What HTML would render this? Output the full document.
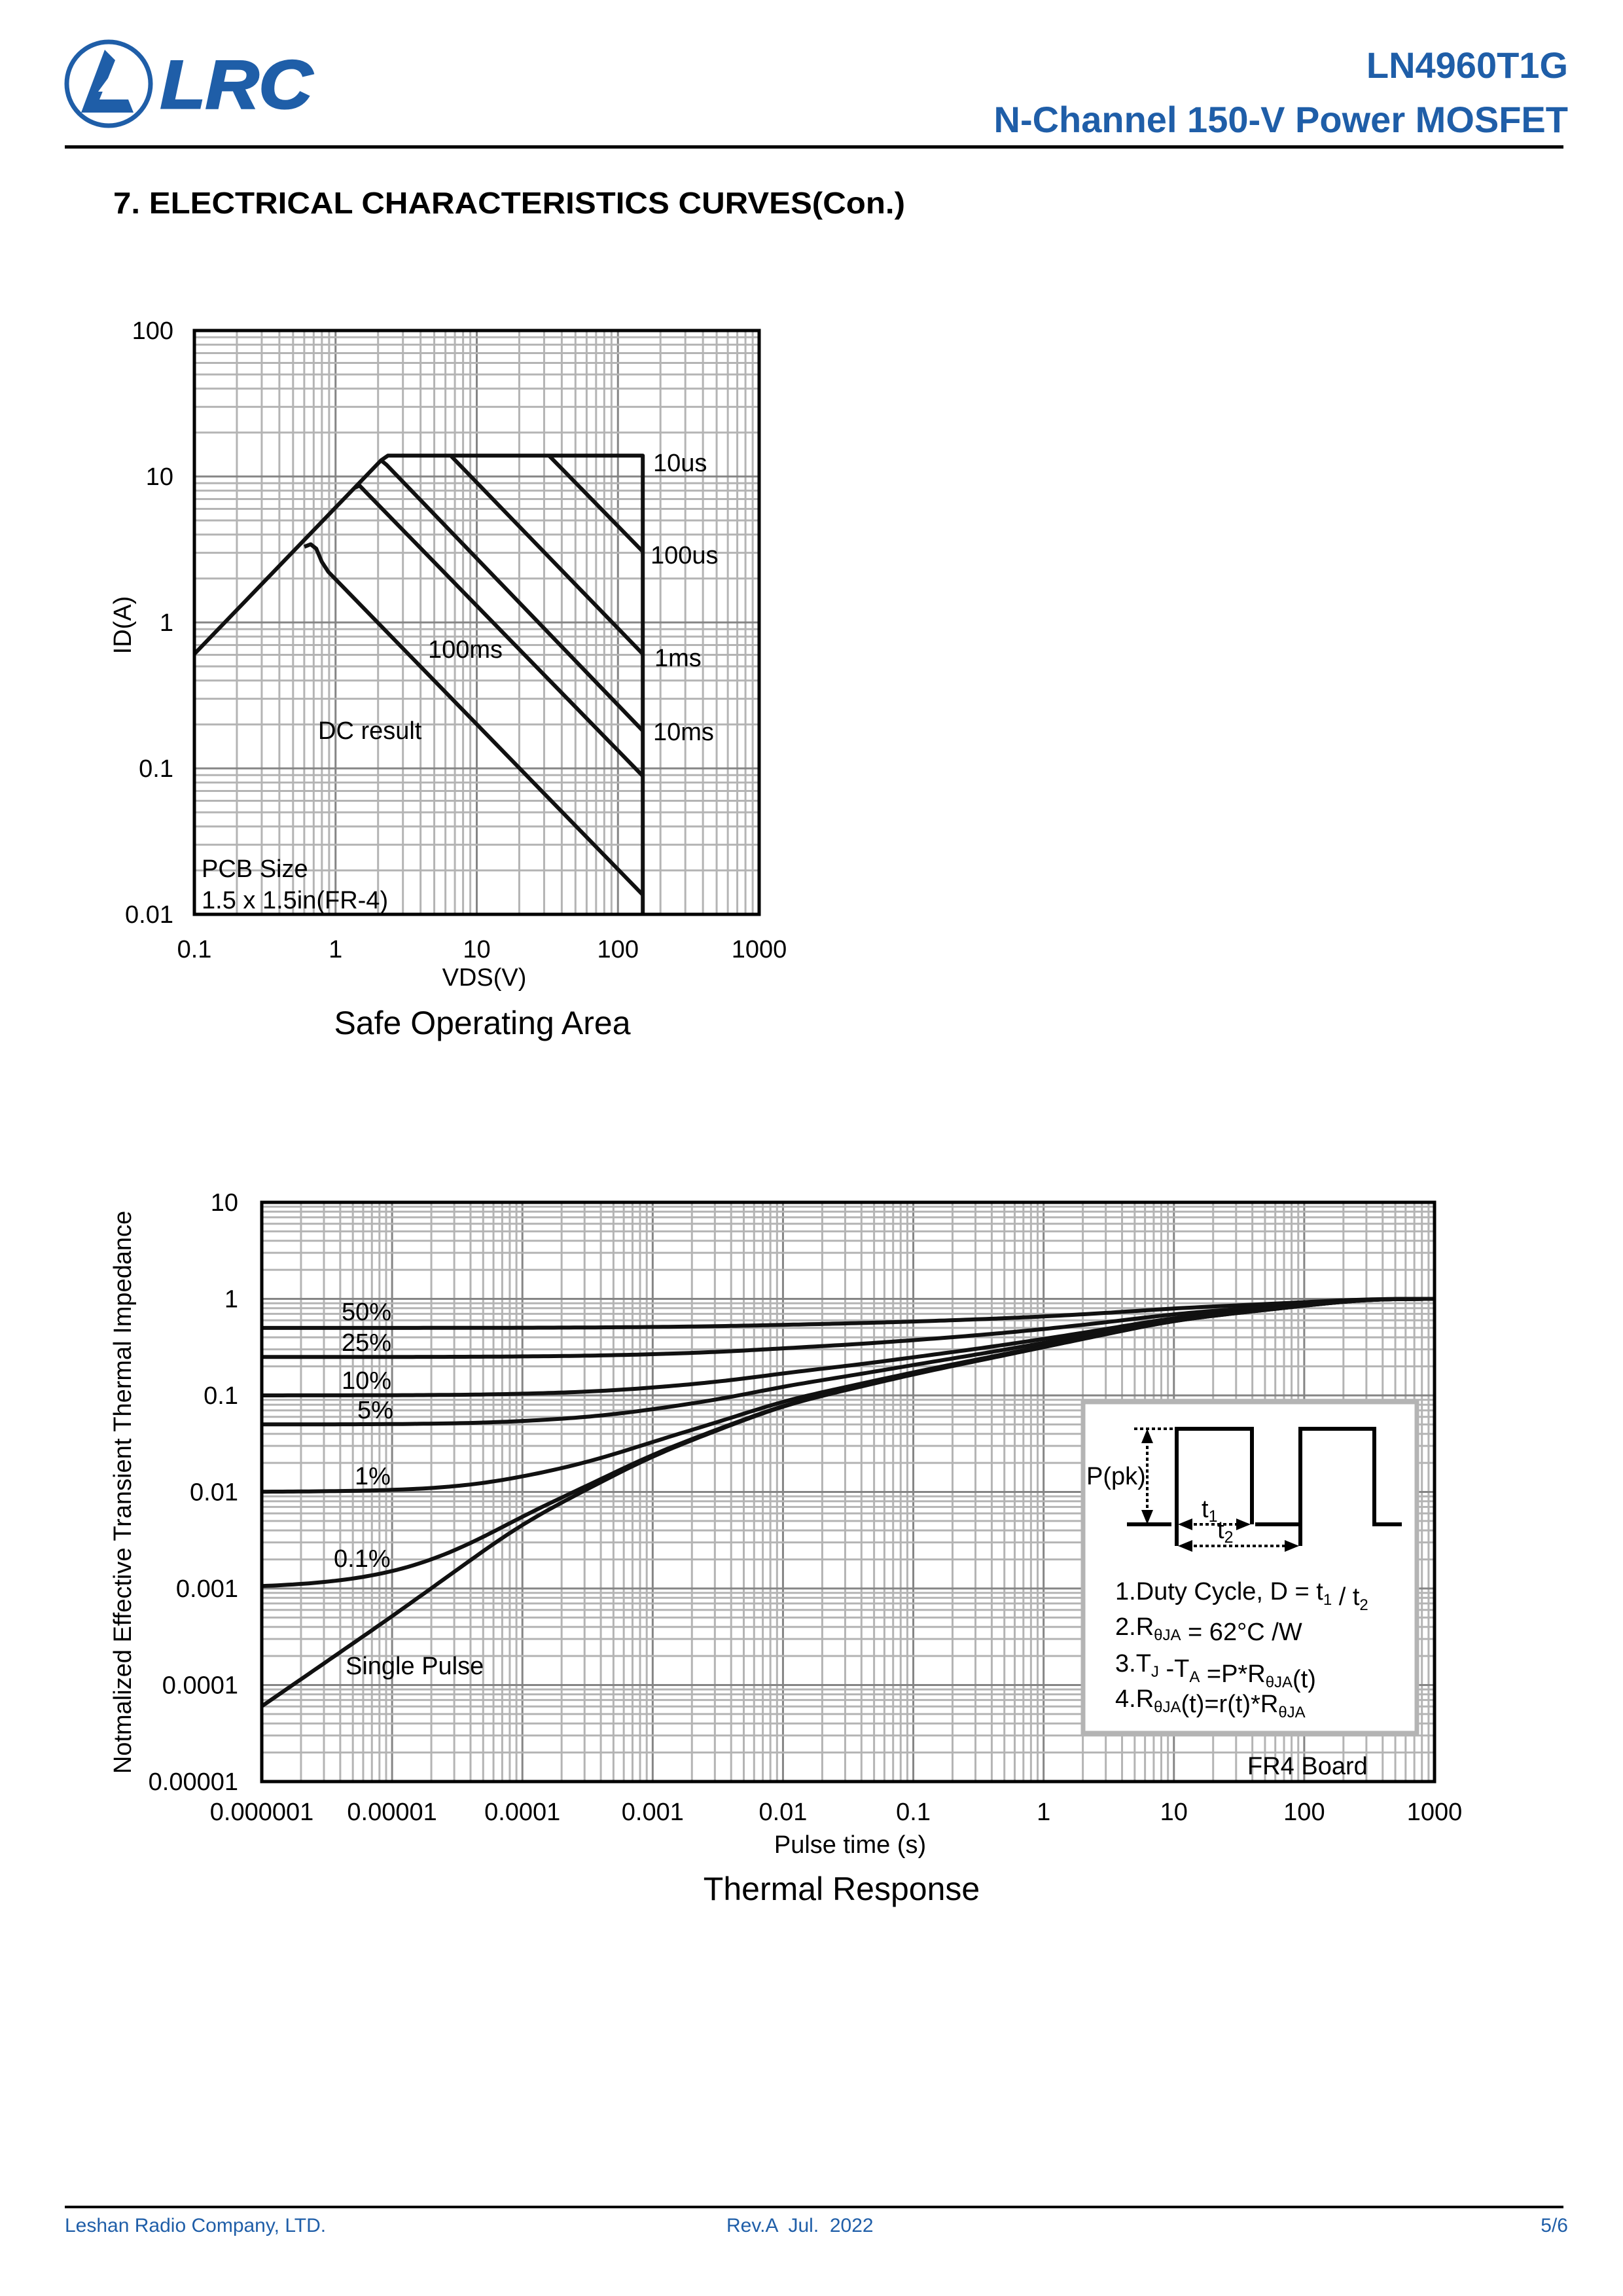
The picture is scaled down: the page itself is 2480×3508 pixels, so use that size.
<!DOCTYPE html>
<html><head><meta charset="utf-8"><style>
html,body{margin:0;padding:0;background:#fff}
body{width:2480px;height:3508px;position:relative;overflow:hidden;font-family:"Liberation Sans",Arial,sans-serif}
svg{position:absolute;left:0;top:0}
</style></head><body>
<svg id="s" width="2480" height="3508" viewBox="0 0 2480 3508" xmlns="http://www.w3.org/2000/svg" font-family="Liberation Sans, Arial, sans-serif">
<!-- header -->
<circle cx="166" cy="128" r="64" fill="none" stroke="#1f5ea8" stroke-width="7"/>
<path d="M160 76 L124 172 L204 172 L196 152 L152 152 L176 92 Z" fill="#1f5ea8"/>
<path d="M150 140 L184 140 L172 110 Z" fill="#fff"/>
<text x="245" y="165" font-size="104" font-weight="bold" font-style="italic" fill="#1f5ea8" stroke="#1f5ea8" stroke-width="3" textLength="232" lengthAdjust="spacingAndGlyphs">LRC</text>
<text x="2396" y="119" font-size="56" font-weight="bold" fill="#1f5ea8" text-anchor="end">LN4960T1G</text>
<text x="2396" y="202" font-size="56" font-weight="bold" fill="#1f5ea8" text-anchor="end">N-Channel 150-V Power MOSFET</text>
<rect x="99" y="222" width="2290" height="5" fill="#000"/>
<text x="173" y="326" font-size="46" font-weight="bold" fill="#000" textLength="1210" lengthAdjust="spacingAndGlyphs">7. ELECTRICAL CHARACTERISTICS CURVES(Con.)</text>
<!-- footer -->
<rect x="99" y="3370" width="2290" height="4" fill="#000"/>
<text x="99" y="3410" font-size="30" fill="#1f5ea8">Leshan Radio Company, LTD.</text>
<text x="1110" y="3410" font-size="30" fill="#1f5ea8" xml:space="preserve">Rev.A  Jul.  2022</text>
<text x="2396" y="3410" font-size="30" fill="#1f5ea8" text-anchor="end">5/6</text>
<g id="g1"></g>
<g id="g2"></g>
</svg>
<script>
const NS="http://www.w3.org/2000/svg";
function el(p,tag,a,txt){const e=document.createElementNS(NS,tag);for(const k in a)e.setAttribute(k,a[k]);if(txt!==undefined)e.textContent=txt;p.appendChild(e);return e;}
function grid(g,L,R,T,B,xd,yd){
  const dx=(R-L)/xd, dy=(B-T)/yd;
  for(let d=0;d<xd;d++)for(let m=1;m<=9;m++){const x=L+dx*(d+Math.log10(m));if(m>1||d>0)el(g,'line',{x1:x,y1:T,x2:x,y2:B,stroke:m==1?'#858585':'#b4b4b4','stroke-width':3});}
  for(let d=0;d<yd;d++)for(let m=1;m<=9;m++){const y=B-dy*(d+Math.log10(m));if(m>1||d>0)el(g,'line',{x1:L,y1:y,x2:R,y2:y,stroke:m==1?'#858585':'#b4b4b4','stroke-width':3});}
}
// ---------- Plot 1: SOA ----------
(function(){
const g=document.getElementById('g1');
const L=297,R=1160,T=505,B=1397;
grid(g,L,R,T,B,4,4);
const X=v=>L+(Math.log10(v)+1)*(R-L)/4, Y=v=>B-(Math.log10(v)+2)*(B-T)/4;
const P=pts=>pts.map(p=>X(p[0]).toFixed(1)+','+Y(p[1]).toFixed(1)).join(' ');
const st={fill:'none',stroke:'#111','stroke-width':6,'stroke-linejoin':'round'};
el(g,'polyline',Object.assign({points:P([[0.1,0.608],[2.1,12.9],[2.35,13.9],[150,13.9],[150,0.01]])},st));
el(g,'polyline',Object.assign({points:P([[32.5,13.9],[150,3.06]])},st));
el(g,'polyline',Object.assign({points:P([[6.53,13.9],[150,0.608]])},st));
el(g,'polyline',Object.assign({points:P([[2.1,12.9],[2.3,12.0],[150,0.181]])},st));
el(g,'polyline',Object.assign({points:P([[1.38,8.4],[1.48,8.65],[1.62,7.9],[150,0.0887]])},st));
el(g,'polyline',Object.assign({points:P([[0.6,3.3],[0.667,3.43],[0.73,3.2],[0.8,2.6],[0.89,2.22],[150,0.0136]])},st));
el(g,'rect',{x:L,y:T,width:R-L,height:B-T,fill:'none',stroke:'#000','stroke-width':5});
const f=38;
[['100',100],['10',10],['1',1],['0.1',0.1],['0.01',0.01]].forEach(a=>el(g,'text',{x:265,y:Y(a[1])+13,'font-size':f,'text-anchor':'end'},a[0]));
[['0.1',0.1],['1',1],['10',10],['100',100],['1000',1000]].forEach(a=>el(g,'text',{x:X(a[1]),y:1463,'font-size':f,'text-anchor':'middle'},a[0]));
el(g,'text',{x:740,y:1506,'font-size':f,'text-anchor':'middle'},'VDS(V)');
el(g,'text',{x:0,y:0,'font-size':f,'text-anchor':'middle',transform:'translate(200,955) rotate(-90)'},'ID(A)');
el(g,'text',{x:737,y:1580,'font-size':50,'text-anchor':'middle'},'Safe Operating Area');
[['10us',998,720],['100us',994,861],['1ms',1000,1018],['10ms',998,1131],['100ms',654,1005],['DC result',486,1129],['PCB Size',308,1340],['1.5 x 1.5in(FR-4)',308,1388]].forEach(a=>el(g,'text',{x:a[1],y:a[2],'font-size':f},a[0]));
})();
// ---------- Plot 2: Thermal ----------
(function(){
const g=document.getElementById('g2');
const L=400,R=2192,T=1837,B=2722;
grid(g,L,R,T,B,9,6);
const X=v=>L+(Math.log10(v)+6)*(R-L)/9, Y=v=>B-(Math.log10(v)+5)*(B-T)/6;
const sp=[[-7,-5.15],[-6,-4.22],[-5,-3.29],[-4,-2.32],[-3,-1.62],[-2,-1.1],[-1,-0.78],[0,-0.5],[1,-0.22],[2,-0.07],[2.5,0],[4,0]];
function lin(lt){for(let i=0;i<sp.length-1;i++){if(lt<=sp[i+1][0]){const a=sp[i],b=sp[i+1];return a[1]+(b[1]-a[1])*(lt-a[0])/(b[0]-a[0]);}}return 0;}
function lsp(lt){let s=0,w=0;for(let k=-20;k<=20;k++){const d=k*0.03;const ww=Math.exp(-d*d/(2*0.22*0.22));s+=ww*lin(lt+d);w+=ww;}return Math.min(0,s/w);}
const st={fill:'none',stroke:'#111','stroke-width':6,'stroke-linejoin':'round'};
[0.5,0.25,0.1,0.05,0.01,0.001,0].forEach(D=>{
  let pts=[];for(let lt=-6;lt<=3.0001;lt+=0.04){let r=Math.pow(10,lsp(lt));r=Math.min(1,D+(1-D)*r);pts.push(X(Math.pow(10,lt)).toFixed(1)+','+Y(r).toFixed(1));}
  el(g,'polyline',Object.assign({points:pts.join(' ')},st));
});
el(g,'rect',{x:L,y:T,width:R-L,height:B-T,fill:'none',stroke:'#000','stroke-width':5});
// inset
el(g,'rect',{x:1655,y:2142,width:510,height:506,fill:'#fff',stroke:'#b4b4b4','stroke-width':7});
const k={fill:'none',stroke:'#000','stroke-width':6};
el(g,'polyline',Object.assign({points:'1722,2329 1790,2329'},k));
el(g,'polyline',Object.assign({points:'1798,2362 1798,2183 1913,2183 1913,2329'},k));
el(g,'polyline',Object.assign({points:'1918,2329 1985,2329'},k));
el(g,'polyline',Object.assign({points:'1987,2362 1987,2183 2100,2183 2100,2329 2142,2329'},k));
const dt={stroke:'#000','stroke-width':4,'stroke-dasharray':'5 4',fill:'none'};
el(g,'line',Object.assign({x1:1733,y1:2183,x2:1794,y2:2183},dt));
el(g,'line',Object.assign({x1:1753,y1:2200,x2:1753,y2:2312},dt));
el(g,'polygon',{points:'1753,2183 1744,2205 1762,2205',fill:'#000'});
el(g,'polygon',{points:'1753,2329 1744,2307 1762,2307',fill:'#000'});
el(g,'line',Object.assign({x1:1815,y1:2329,x2:1896,y2:2329},dt));
el(g,'polygon',{points:'1800,2329 1822,2320 1822,2338',fill:'#000'});
el(g,'polygon',{points:'1911,2329 1889,2320 1889,2338',fill:'#000'});
el(g,'line',Object.assign({x1:1815,y1:2362,x2:1970,y2:2362},dt));
el(g,'polygon',{points:'1800,2362 1822,2353 1822,2371',fill:'#000'});
el(g,'polygon',{points:'1985,2362 1963,2353 1963,2371',fill:'#000'});
const fi=38;
el(g,'text',{x:1660,y:2268,'font-size':fi},'P(pk)');
const t1=el(g,'text',{x:1836,y:2318,'font-size':fi},'t');el(t1,'tspan',{'font-size':25,dy:7},'1');
const t2=el(g,'text',{x:1860,y:2350,'font-size':fi},'t');el(t2,'tspan',{'font-size':25,dy:7},'2');
function rich(y,parts){const t=el(g,'text',{x:1704,y:y,'font-size':fi});parts.forEach(p=>{if(typeof p==='string')el(t,'tspan',{},p);else el(t,'tspan',{'font-size':24,dy:p[1]},p[0]);});}
rich(2444,['1.Duty Cycle, D = t',['1',8],['',-8],' / t',['2',8]]);
rich(2498,['2.R',['θJA',8],['',-8],' = 62°C /W']);
rich(2554,['3.T',['J',8],['',-8],' -T',['A',8],['',-8],' =P*R',['θJA',8],['',-8],'(t)']);
rich(2608,['4.R',['θJA',8],['',-8],'(t)=r(t)*R',['θJA',8]]);
const f=38;
[['10',10],['1',1],['0.1',0.1],['0.01',0.01],['0.001',0.001],['0.0001',0.0001],['0.00001',0.00001]].forEach(a=>el(g,'text',{x:364,y:Y(a[1])+13,'font-size':f,'text-anchor':'end'},a[0]));
['0.000001','0.00001','0.0001','0.001','0.01','0.1','1','10','100','1000'].forEach((s,i)=>el(g,'text',{x:L+i*(R-L)/9,y:2781,'font-size':f,'text-anchor':'middle'},s));
el(g,'text',{x:1299,y:2831,'font-size':f,'text-anchor':'middle'},'Pulse time (s)');
el(g,'text',{x:1286,y:2903,'font-size':50,'text-anchor':'middle'},'Thermal Response');
el(g,'text',{x:0,y:0,'font-size':f,'text-anchor':'middle',transform:'translate(200,2280) rotate(-90)'},'Notmalized Effective Transient Thermal Impedance');
[['50%',522,2017],['25%',522,2064],['10%',522,2122],['5%',546,2167],['1%',542,2268],['0.1%',510,2394],['Single Pulse',528,2558],['FR4 Board',1906,2711]].forEach(a=>el(g,'text',{x:a[1],y:a[2],'font-size':f},a[0]));
})();
</script>
</body></html>
